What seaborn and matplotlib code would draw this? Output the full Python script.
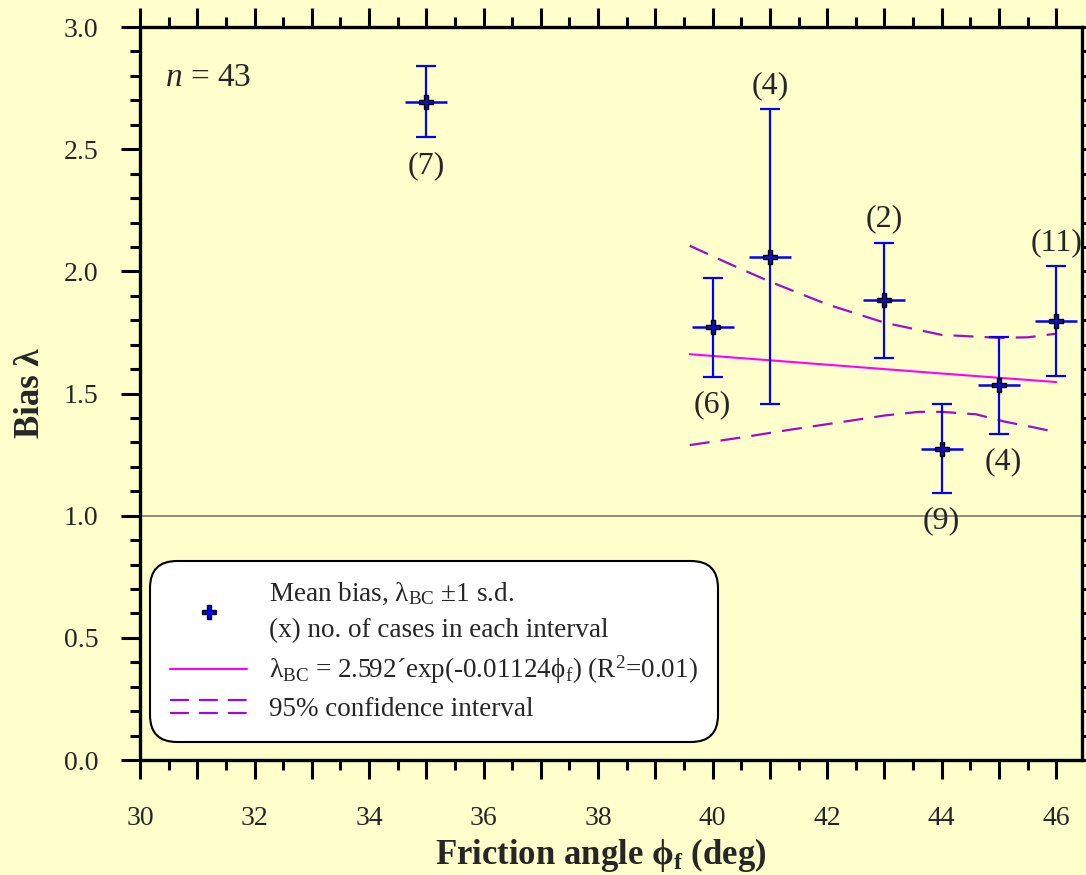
import numpy as np
import pandas as pd
import matplotlib
matplotlib.use("Agg")
import matplotlib.pyplot as plt
import seaborn as sns
from matplotlib.lines import Line2D
from matplotlib.legend_handler import HandlerBase
from matplotlib.ticker import MultipleLocator, FuncFormatter

# ---------------- data ----------------
phi = [35, 40, 41, 43, 44, 45, 46]
mean_bias = [2.693, 1.772, 2.060, 1.883, 1.273, 1.535, 1.797]
upper_sd = [2.840, 1.974, 2.663, 2.118, 1.456, 1.730, 2.022]
lower_sd = [2.548, 1.569, 1.457, 1.644, 1.094, 1.334, 1.572]
n_cases = [7, 6, 4, 2, 9, 4, 11]
label_side = ["below", "below", "above", "above", "below", "below", "above"]

fit_x = [39.6, 41.0, 42.5, 44.0, 46.0]
fit_y = [1.661, 1.636, 1.609, 1.582, 1.547]

ci_up_x = [39.6, 40.3, 41.0, 42.0, 43.0, 44.0, 45.0, 45.5, 46.0]
ci_up_y = [2.105, 2.030, 1.958, 1.865, 1.790, 1.740, 1.728, 1.730, 1.745]
ci_lo_x = [39.6, 40.5, 41.3, 42.3, 43.0, 43.6, 44.0, 44.6, 45.1, 45.6, 46.0]
ci_lo_y = [1.289, 1.320, 1.350, 1.385, 1.410, 1.425, 1.425, 1.415, 1.385, 1.362, 1.342]

# ---------------- style ----------------
sns.set_style("ticks")
bg = "#FFFFCC"
plt.rcParams["font.family"] = ["Liberation Serif", "DejaVu Serif"]
plt.rcParams["mathtext.fontset"] = "custom"
plt.rcParams["mathtext.rm"] = "Liberation Serif"
plt.rcParams["mathtext.it"] = "Liberation Serif:italic"
plt.rcParams["mathtext.bf"] = "Liberation Serif:bold"

fig = plt.figure(figsize=(10.86, 8.75), dpi=100, facecolor=bg)
ax = fig.add_axes([0.1289, 0.1314, 0.9963 - 0.1289, 0.9691 - 0.1314])
ax.set_facecolor(bg)

# reference line
ax.axhline(1.0, color="#7a7a6a", lw=1.2, zorder=1)

# fit & CI
fit_df = pd.DataFrame({"x": fit_x, "y": fit_y})
sns.lineplot(data=fit_df, x="x", y="y", ax=ax, color="#FF00FF", lw=1.5, zorder=2)
for cx, cy in [(ci_up_x, ci_up_y), (ci_lo_x, ci_lo_y)]:
    d = pd.DataFrame({"x": cx, "y": cy})
    sns.lineplot(data=d, x="x", y="y", ax=ax, color="#9B0FCC", lw=1.6,
                 dashes=False, zorder=2).lines[-1].set_dashes((9, 5))

# error bars
phi_a = np.array(phi)
m = np.array(mean_bias)
yerr = np.vstack([m - np.array(lower_sd), np.array(upper_sd) - m])
ax.errorbar(phi_a, m, yerr=yerr, fmt="none", ecolor="#0000FF", elinewidth=1.6,
            capsize=7.5, capthick=1.6, zorder=3)
ax.plot(phi_a, m, ls="none", marker="_", ms=30, mew=1.8, color="#0000FF", zorder=4)
sns.scatterplot(x=phi, y=mean_bias, ax=ax, marker="P", s=110, color="#1010C0",
                edgecolor="black", linewidth=1.0, zorder=5)

# counts
for x, lo, hi, n, side in zip(phi, lower_sd, upper_sd, n_cases, label_side):
    if side == "above":
        ax.annotate(f"({n})", (x, hi), xytext=(0, 17), textcoords="offset points",
                    ha="center", va="center", fontsize=23)
    else:
        dx = 3 if n == 4 else 0
        ax.annotate(f"({n})", (x, lo), xytext=(dx, -20), textcoords="offset points",
                    ha="center", va="center", fontsize=23)

ax.text(0.027, 0.931, "$n$ = 43", transform=ax.transAxes, fontsize=24,
        ha="left", va="center")

# axes
ax.set_xlim(30, 46.45)
ax.set_ylim(0, 3.0)
ax.xaxis.set_major_locator(MultipleLocator(1))
ax.xaxis.set_minor_locator(MultipleLocator(0.5))
ax.xaxis.set_major_formatter(FuncFormatter(lambda v, p: f"{v:.0f}" if round(v) % 2 == 0 else ""))
ax.yaxis.set_major_locator(MultipleLocator(0.5))
ax.yaxis.set_minor_locator(MultipleLocator(0.1))
ax.yaxis.set_major_formatter(FuncFormatter(lambda v, p: f"{v:.1f}"))
ax.tick_params(which="both", direction="out", top=True, right=True, width=2.2, color="black")
ax.tick_params(which="major", length=14)
ax.tick_params(which="minor", length=7)
ax.tick_params(axis="x", which="major", pad=19, labelsize=20)
ax.tick_params(axis="y", which="major", pad=16, labelsize=20)
for s in ax.spines.values():
    s.set_linewidth(2.4)
    s.set_color("black")

xl = ax.set_xlabel("Friction angle \u03d5$_\\mathbf{f}$ (deg)", fontsize=25, fontweight="bold", labelpad=8)
ax.xaxis.set_label_coords(0.489, -0.103)
ax.set_ylabel("Bias \u03bb", fontsize=25, fontweight="bold", labelpad=12)


class DoubleDash(HandlerBase):
    def create_artists(self, legend, orig_handle, xdescent, ydescent, width, height, fontsize, trans):
        arts = []
        for fy in (0.15, 0.85):
            ln = Line2D([-xdescent, -xdescent + width], [-ydescent + fy * height] * 2,
                        color="#9B0FCC", lw=1.6, transform=trans)
            ln.set_dashes((8.5, 4.5))
            arts.append(ln)
        return arts


h1 = Line2D([], [], ls="none", marker="P", ms=10, mfc="#0000FF", mec="black", mew=1.0)
h2 = Line2D([], [], color="#FF00FF", lw=1.5)
h3 = Line2D([], [], color="#9B0FCC", lw=1.6, ls="--")
labels = [
    "Mean bias, \u03bb$_{\\mathrm{BC}}$ \u00b11 s.d.\n(x) no. of cases in each interval",
    "\u03bb$_{\\mathrm{BC}}$ = 2.592\u00b4exp(-0.01124\u03d5$_{\\mathrm{f}}$) (R$^2$=0.01)",
    "95% confidence interval",
]
leg = ax.legend([h1, h2, h3], labels, handler_map={h3: DoubleDash()},
                loc="lower left", bbox_to_anchor=(0.0106, 0.0246), borderaxespad=0,
                fontsize=19.5, handlelength=2.85, handletextpad=0.8, labelspacing=0.38,
                frameon=True, fancybox=True, borderpad=0.75, facecolor="white",
                edgecolor="black", framealpha=1)
for t in leg.get_texts():
    t.set_linespacing(1.6)
leg.get_frame().set_linewidth(1.5)
leg.get_frame().set_boxstyle("round", pad=0.0, rounding_size=1.0)

fig.savefig("out.png", dpi=100, facecolor=bg)
